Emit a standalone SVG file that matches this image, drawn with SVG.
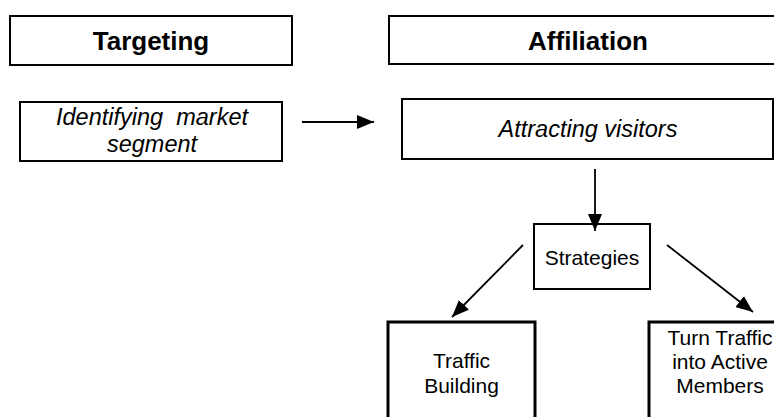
<svg xmlns="http://www.w3.org/2000/svg" width="774" height="417" viewBox="0 0 774 417">
<style>
.box{fill:#fff;stroke:#000;stroke-width:2}
.thick{stroke-width:3}
.t{font-family:"Liberation Sans",Arial,sans-serif;fill:#000;text-anchor:middle}
.h{font-size:26px;font-weight:bold}
.i{font-size:23.5px;font-style:italic}
.n{font-size:21px}
.c{stroke:#000;stroke-width:1.8;fill:none;marker-end:url(#ah)}
</style>
<defs>
<marker id="ah" markerUnits="userSpaceOnUse" markerWidth="17" markerHeight="14" refX="17" refY="7" orient="auto">
<path d="M0,0 L17,7 L0,14 z" fill="#000"/>
</marker>
</defs>
<rect width="774" height="417" fill="#fff"/>
<g id="targeting">
<rect class="box" x="10" y="16" width="282" height="49"/>
<text class="t h" x="151" y="50">Targeting</text>
</g>
<g id="affiliation">
<rect class="box" x="389" y="16" width="400" height="48"/>
<text class="t h" x="588" y="50">Affiliation</text>
</g>
<g id="identifying">
<rect class="box" x="20" y="102" width="262" height="59"/>
<text class="t i" x="152" y="125" xml:space="preserve">Identifying  market</text>
<text class="t i" x="152" y="152">segment</text>
</g>
<g id="attracting">
<rect class="box" x="402" y="99" width="371" height="60"/>
<text class="t i" x="588" y="137">Attracting visitors</text>
</g>
<g id="strategies">
<rect class="box" x="534" y="224" width="116" height="65"/>
<text class="t n" x="592" y="265">Strategies</text>
</g>
<g id="traffic-building">
<rect class="box thick" x="388" y="322" width="147" height="110"/>
<text class="t n" x="461.5" y="368">Traffic</text>
<text class="t n" x="461.5" y="393">Building</text>
</g>
<g id="turn-traffic">
<rect class="box thick" x="649" y="322" width="150" height="110"/>
<text class="t n" x="720" y="345">Turn Traffic</text>
<text class="t n" x="720" y="369">into Active</text>
<text class="t n" x="720" y="393">Members</text>
</g>
<g id="connectors">
<line class="c" x1="302" y1="122" x2="374" y2="122"/>
<line class="c" x1="595" y1="169" x2="595" y2="231"/>
<line class="c" x1="523" y1="245" x2="452" y2="317"/>
<line class="c" x1="667" y1="245" x2="753" y2="312"/>
</g>
</svg>
